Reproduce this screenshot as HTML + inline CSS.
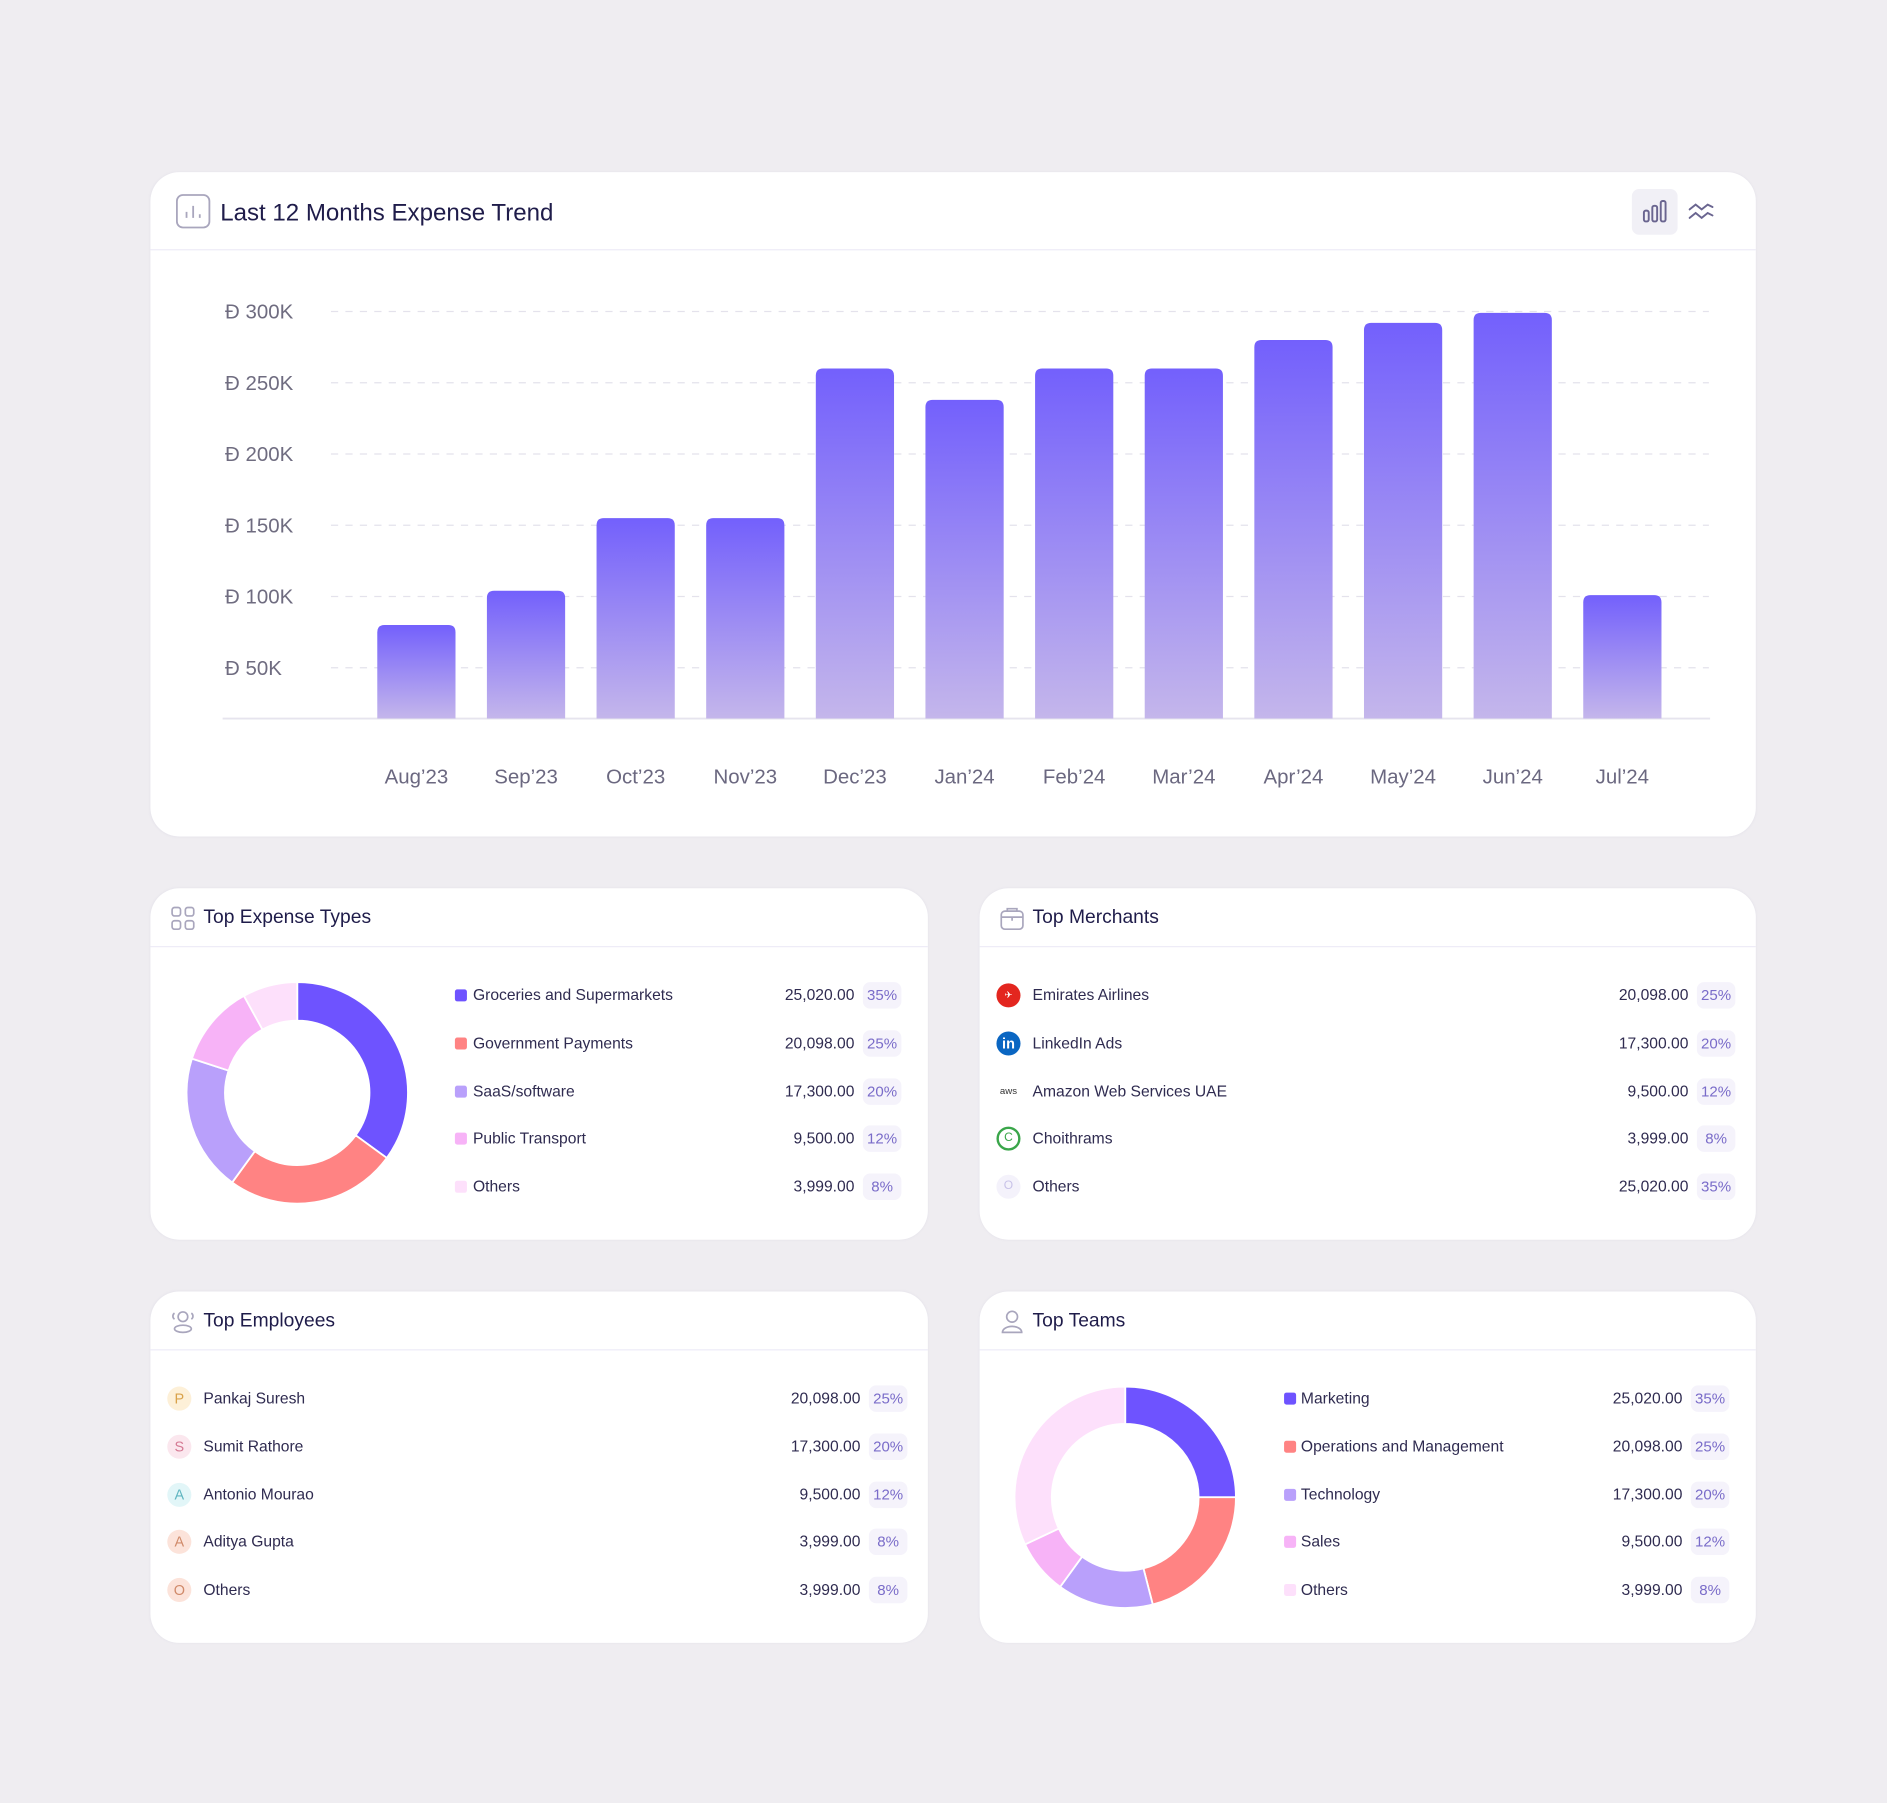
<!DOCTYPE html>
<html><head><meta charset="utf-8">
<style>
html,body{margin:0;padding:0;background:#efedf1;}
body{width:1887px;height:1803px;overflow:hidden;font-family:"Liberation Sans",sans-serif;}
#root{position:absolute;left:0;top:0;width:1568px;height:1498px;transform:scale(1.20344,1.2036);transform-origin:0 0;}
.card{position:absolute;background:#fff;border-radius:24px;box-shadow:0 0 2px rgba(120,110,160,0.08);}
.hdr{position:absolute;left:0;right:0;border-bottom:1px solid #edebf7;}
.title{position:absolute;color:#1f1c4a;white-space:nowrap;}
.row{position:absolute;left:0;right:0;height:24px;font-size:13px;color:#2f2b50;}
.row span{position:absolute;top:4px;white-space:nowrap;}
.sw{position:absolute;top:7px;width:10px;height:10px;border-radius:2px;}
.pill{position:absolute;top:1px;height:22px;width:32px;background:#f5f3fb;border-radius:6px;color:#7a6cc9;font-size:12.5px;text-align:center;line-height:22px;}
.av{position:absolute;top:2px;width:20px;height:20px;border-radius:50%;font-size:12px;text-align:center;line-height:20px;}
</style></head><body>
<div id="root">
  <div class="card" style="left:125px;top:143px;width:1334px;height:552px;">
    <div class="hdr" style="top:0;height:64px;"></div>
    <svg style="position:absolute;left:21px;top:18px" width="30" height="30"><rect x="1" y="1" width="27" height="27" rx="5" fill="none" stroke="#a9a6bd" stroke-width="1.5"/><path d="M9 20v-5M14.5 20v-10M20 20v-3" stroke="#a9a6bd" stroke-width="1.5"/></svg>
    <div class="title" style="left:58px;top:23px;font-size:20px;">Last 12 Months Expense Trend</div>
    <div style="position:absolute;left:1231px;top:14px;width:38px;height:38px;background:#f1f0f6;border-radius:6px;">
      <svg width="38" height="38"><g fill="none" stroke="#6a6590" stroke-width="1.6"><rect x="10" y="18" width="4" height="9" rx="1.5"/><rect x="17" y="14" width="4" height="13" rx="1.5"/><rect x="24" y="10" width="4" height="17" rx="1.5"/></g></svg>
    </div>
    <svg style="position:absolute;left:1277px;top:22px" width="24" height="22"><g fill="none" stroke="#6a6590" stroke-width="1.6" stroke-linecap="round"><path d="M2 9l5-4 5 4 5-4 4 2"/><path d="M2 16l5-4 5 4 5-4 4 2"/></g></svg>
    <svg id="bars" style="position:absolute;left:0;top:0" width="1334" height="552"></svg>
  </div>

  <div class="card" id="c1" style="left:125px;top:738px;width:646px;height:292px;"></div>
  <div class="card" id="c2" style="left:814px;top:738px;width:645px;height:292px;"></div>
  <div class="card" id="c3" style="left:125px;top:1073px;width:646px;height:292px;"></div>
  <div class="card" id="c4" style="left:814px;top:1073px;width:645px;height:292px;"></div>
</div>
<script>
const months=["Aug'23","Sep'23","Oct'23","Nov'23","Dec'23","Jan'24","Feb'24","Mar'24","Apr'24","May'24","Jun'24","Jul'24"];
const expenses=[80,104,155,155,260,238,260,260,280,292,299,101];
const yTicks=[50,100,150,200,250,300];
const yTickLabels=["Ð 50K","Ð 100K","Ð 150K","Ð 200K","Ð 250K","Ð 300K"];

const expTypes=["Groceries and Supermarkets","Government Payments","SaaS/software","Public Transport","Others"];
const expValues=["25,020.00","20,098.00","17,300.00","9,500.00","3,999.00"];
const expPct=[35,25,20,12,8];
const merchants=["Emirates Airlines","LinkedIn Ads","Amazon Web Services UAE","Choithrams","Others"];
const merchValues=["20,098.00","17,300.00","9,500.00","3,999.00","25,020.00"];
const merchPct=[25,20,12,8,35];
const employees=["Pankaj Suresh","Sumit Rathore","Antonio Mourao","Aditya Gupta","Others"];
const empValues=["20,098.00","17,300.00","9,500.00","3,999.00","3,999.00"];
const empPct=[25,20,12,8,8];
const teams=["Marketing","Operations and Management","Technology","Sales","Others"];
const teamValues=["25,020.00","20,098.00","17,300.00","9,500.00","3,999.00"];
const teamPct=[35,25,20,12,8];
const teamSlices=[25,21,14,8,32];

const colors=["#6e53ff","#ff8383","#b9a0fb","#f7b3f7","#fde0fb"];
const NS="http://www.w3.org/2000/svg";
function mk(tag,attrs,parent){const e=document.createElementNS(NS,tag);for(const k in attrs)e.setAttribute(k,attrs[k]);parent.appendChild(e);return e;}

const svg=document.getElementById('bars');
const yScale=v=>471-v*1.184;
const xScale=i=>221+i*91.1;
const base=454;
const defs=mk('defs',{},svg);
const lg=mk('linearGradient',{id:'bg',x1:0,y1:0,x2:0,y2:1},defs);
mk('stop',{offset:'0','stop-color':'#7360fc'},lg);
mk('stop',{offset:'1','stop-color':'#c4b6eb'},lg);
yTicks.forEach((t,i)=>{
  const y=yScale(t);
  const l=mk('line',{x1:150,x2:1295,y1:y,y2:y,stroke:'#e4e2ec','stroke-dasharray':'6 6'},svg);
  
  
  const tx=mk('text',{x:62,y:y+6,'font-size':17,fill:'#6f6c80','font-family':'Liberation Sans, sans-serif'},svg);
  tx.textContent=yTickLabels[i];
  
  
});
const ax=mk('line',{x1:60,x2:1296,y1:base,y2:base,stroke:'#e6e4ee','stroke-width':1.5},svg);


expenses.forEach((v,i)=>{
  const cx=xScale(i),top=yScale(v);
  const r=mk('path',{d:`M${cx-32.5} ${base}V${top+6}q0-6 6-6h53q6 0 6 6V${base}Z`,fill:'url(#bg)'},svg);
  
  
  const tx=mk('text',{x:cx,y:508,'font-size':17,fill:'#6b6880','text-anchor':'middle','font-family':'Liberation Sans, sans-serif'},svg);
  tx.textContent=months[i].replace("'","’");
  
  
});

function header(card,title,icon){
  const h=document.createElement('div');h.className='hdr';h.style.top='0';h.style.height='48px';
  
  
  card.appendChild(h);
  const ic=document.createElement('div');ic.style.cssText='position:absolute;left:15px;top:13px;width:24px;height:24px;';ic.innerHTML=icon;
  
  
  card.appendChild(ic);
  const t=document.createElement('div');t.className='title';t.style.cssText='left:44px;top:16px;font-size:16px;';t.textContent=title;
  
  
  card.appendChild(t);
}
function rows(card,names,vals,pcts,textX,valRight,pillX,marker){
  names.forEach((n,i)=>{
    const r=document.createElement('div');r.className='row';r.style.top=(77+i*39.8)+'px';
    
    
    r.innerHTML=marker(i)+`<span style="left:${textX}px">${n}</span><span style="right:${card.offsetWidth-valRight}px">${vals[i]}</span><div class="pill" style="left:${pillX}px">${pcts[i]}%</div>`;
    card.appendChild(r);
  });
}
function donut(card,vals,cx,cy,R,r0){
  const s=document.createElementNS(NS,'svg');s.setAttribute('width',card.offsetWidth);s.setAttribute('height',card.offsetHeight);
  s.style.cssText='position:absolute;left:0;top:0';
  
  
  card.appendChild(s);
  const tot=vals.reduce((a,b)=>a+b,0);let a=0;
  vals.forEach((v,i)=>{
    const a0=a/tot*2*Math.PI,a1=(a+v)/tot*2*Math.PI;a+=v;
    const p=(ang,rr)=>[cx+rr*Math.sin(ang),cy-rr*Math.cos(ang)];
    const [x0,y0]=p(a0,R),[x1,y1]=p(a1,R),[x2,y2]=p(a1,r0),[x3,y3]=p(a0,r0);
    const lf=(a1-a0)>Math.PI?1:0;
    const path=mk('path',{d:`M${x0} ${y0}A${R} ${R} 0 ${lf} 1 ${x1} ${y1}L${x2} ${y2}A${r0} ${r0} 0 ${lf} 0 ${x3} ${y3}Z`,fill:colors[i],stroke:'#fff','stroke-width':1.5},s);
    
    
  });
}
const gridIcon='<svg width="24" height="24"><g fill="none" stroke="#a9a6bd" stroke-width="1.4"><rect x="3" y="3" width="7" height="7" rx="2"/><rect x="14" y="3" width="7" height="7" rx="2"/><rect x="3" y="14" width="7" height="7" rx="2"/><rect x="14" y="14" width="7" height="7" rx="2"/></g></svg>';
const bagIcon='<svg width="24" height="24"><g fill="none" stroke="#a9a6bd" stroke-width="1.4"><rect x="3" y="6" width="18" height="15" rx="3"/><path d="M8 6V4h8v2M3 11h18M12 11v3"/></g></svg>';
const peopleIcon='<svg width="24" height="24"><g fill="none" stroke="#a9a6bd" stroke-width="1.4"><circle cx="12" cy="8" r="4"/><ellipse cx="12" cy="18" rx="7" ry="3"/><path d="M5 5a3 3 0 0 0 0 5M19 5a3 3 0 0 1 0 5"/></g></svg>';
const personIcon='<svg width="24" height="24"><g fill="none" stroke="#a9a6bd" stroke-width="1.4"><circle cx="12" cy="8" r="4.5"/><path d="M4 21a8 5 0 0 1 16 0z"/></g></svg>';

const c1=document.getElementById('c1'),c2=document.getElementById('c2'),c3=document.getElementById('c3'),c4=document.getElementById('c4');
header(c1,'Top Expense Types',gridIcon);
donut(c1,expPct,122,170,92,60);
rows(c1,expTypes,expValues,expPct,268,585,592,i=>`<div class="sw" style="left:253px;background:${colors[i]}"></div>`);

header(c2,'Top Merchants',bagIcon);
const mIcons=[
 '<div class="av" style="left:14px;background:#e3261f;color:#fff;font-size:8px">✈</div>',
 '<div class="av" style="left:14px;background:#0a66c2;color:#fff;font-weight:bold;font-size:12px">in</div>',
 '<div class="av" style="left:14px;color:#333;font-size:8px">aws</div>',
 '<div class="av" style="left:14px;border:2px solid #3aa64a;width:16px;height:16px;line-height:16px;color:#3aa64a;font-size:10px">C</div>',
 '<div class="av" style="left:14px;background:#f4f2fb;color:#c8c2e8;font-size:10px">O</div>'];
rows(c2,merchants,merchValues,merchPct,44,589,596,i=>mIcons[i]);

header(c3,'Top Employees',peopleIcon);
const avc=[["#fdf0d8","#d9a24a"],["#fbe7ee","#d57a94"],["#e2f6f8","#5fb5c0"],["#fce3da","#d08a6a"],["#fce3da","#d08a6a"]];
rows(c3,employees,empValues,empPct,44,590,597,i=>`<div class="av" style="left:14px;background:${avc[i][0]};color:${avc[i][1]}">${employees[i][0]}</div>`);

header(c4,'Top Teams',personIcon);
donut(c4,teamSlices,121,171,92,61);
rows(c4,teams,teamValues,teamPct,267,584,591,i=>`<div class="sw" style="left:253px;background:${colors[i]}"></div>`);
</script>
</body></html>
